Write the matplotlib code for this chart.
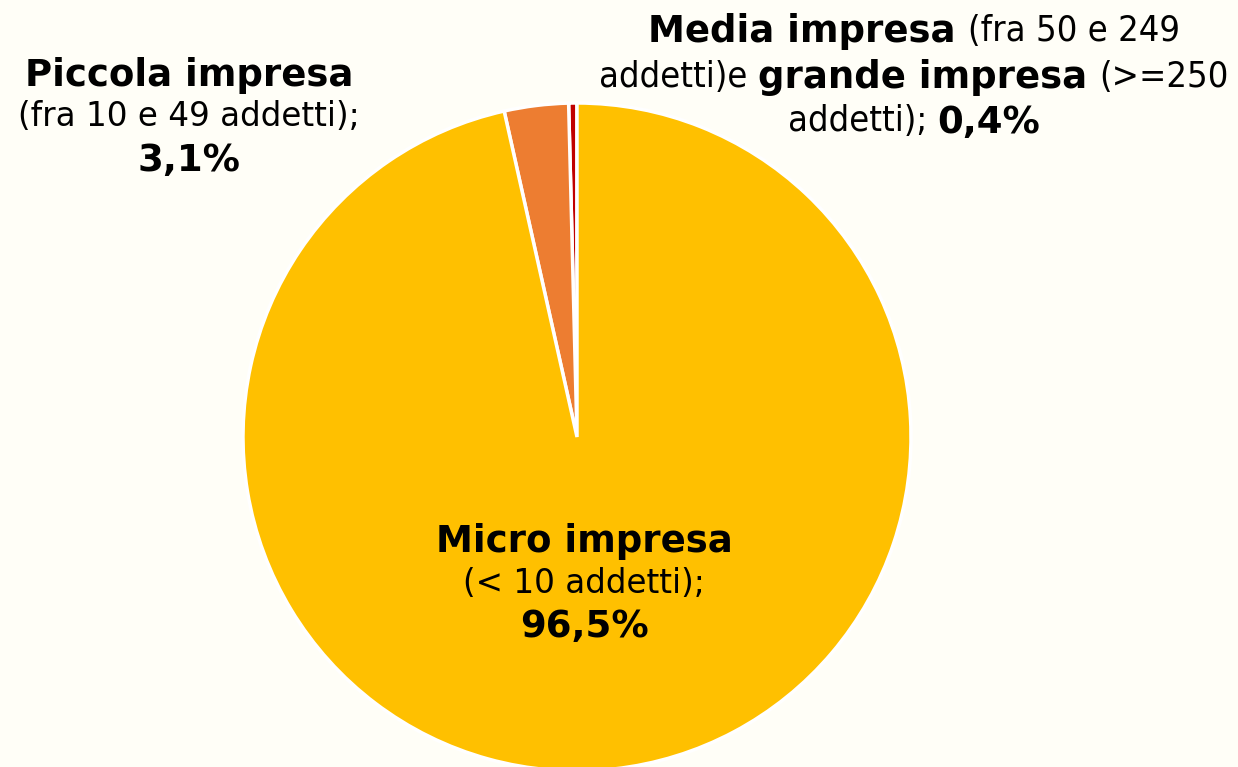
import matplotlib
matplotlib.use("Agg")
import matplotlib.pyplot as plt

labels = ["Media e grande impresa", "Piccola impresa", "Micro impresa"]
values = [0.4, 3.1, 96.5]
colors = ["#C00000", "#ED7D31", "#FFC000"]
bg = "#FFFEF7"

W, H = 1238, 767
fig = plt.figure(figsize=(W / 100, H / 100), dpi=100, facecolor=bg)
ax = fig.add_axes([0, 0, 1, 1])
ax.set_facecolor(bg)
ax.axis("off")

ax.pie(values, colors=colors, startangle=90, counterclock=True,
       center=(577, H - 437), radius=334,
       wedgeprops=dict(edgecolor="white", linewidth=2.5))
ax.set_xlim(0, W)
ax.set_ylim(0, H)
ax.set_aspect("auto")

fig.canvas.draw()
renderer = fig.canvas.get_renderer()

BOLD = 26.7
REG = 23.5
REGC = 26


def mixed_line(xc, ycen, segs):
    """segs: list of (text, bold, size, stretch)"""
    objs = []
    widths = []
    for t, b, s, st in segs:
        o = ax.text(0, H - ycen, t, fontsize=s, fontweight="bold" if b else "normal",
                    family="DejaVu Sans", fontstretch=st, ha="left",
                    va="center_baseline", color="black")
        objs.append(o)
        bb = o.get_window_extent(renderer=renderer)
        widths.append(bb.width)
    total = sum(widths)
    x = xc - total / 2
    for o, w in zip(objs, widths):
        o.set_x(x)
        x += w


def pct(v):
    return f"{v:.1f}%".replace(".", ",")


# Micro impresa
mixed_line(584, 538, [("Micro impresa", True, BOLD, "normal")])
mixed_line(584, 580, [("(< 10 addetti);", False, REG, "normal")])
mixed_line(584, 622, [(pct(values[2]), True, BOLD, "normal")])

# Piccola impresa
mixed_line(189, 71, [("Piccola impresa", True, BOLD, "normal")])
mixed_line(189, 113, [("(fra 10 e 49 addetti);", False, REG, "normal")])
mixed_line(189, 156, [(pct(values[1]), True, BOLD, "normal")])

# Media e grande impresa
mixed_line(914, 28, [("Media impresa ", True, BOLD, "normal"),
                     ("(fra 50 e 249", False, REGC, "condensed")])
mixed_line(914, 73, [("addetti)e ", False, REGC, "condensed"),
                     ("grande impresa ", True, BOLD, "normal"),
                     ("(>=250", False, REGC, "condensed")])
mixed_line(914, 118, [("addetti); ", False, REGC, "condensed"),
                      (pct(values[0]), True, BOLD, "normal")])

fig.savefig("out.png", dpi=100, facecolor=bg)
